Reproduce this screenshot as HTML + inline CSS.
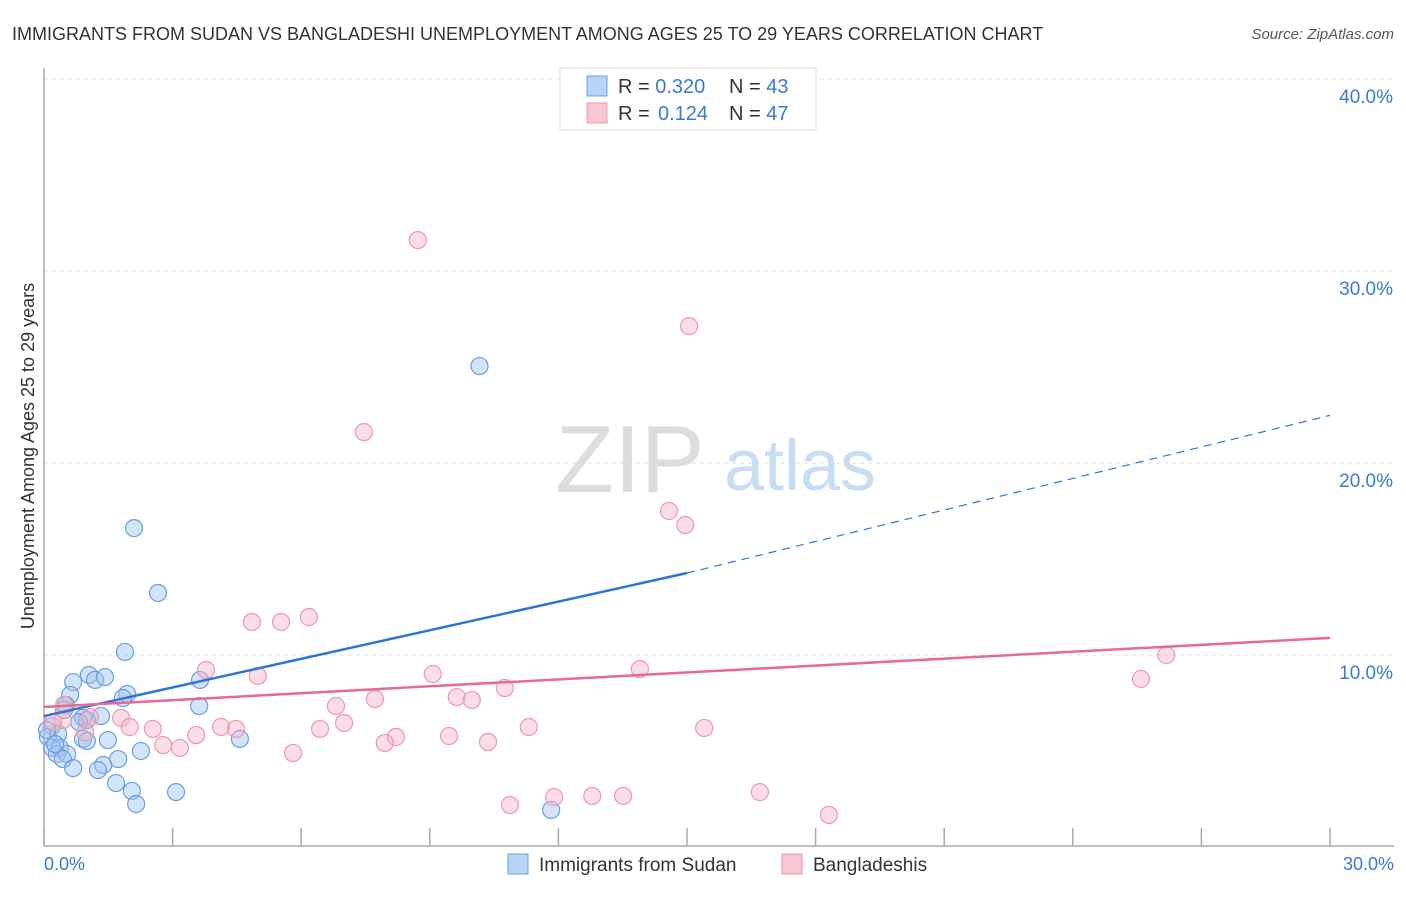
<!DOCTYPE html>
<html><head><meta charset="utf-8"><style>
body{margin:0;background:#fff;font-family:"Liberation Sans",sans-serif;}
svg text{font-family:"Liberation Sans",sans-serif;}
</style></head><body>
<svg id="chart" width="1406" height="892" xmlns="http://www.w3.org/2000/svg">
<text x="12" y="40" font-size="18" fill="#333">IMMIGRANTS FROM SUDAN VS BANGLADESHI UNEMPLOYMENT AMONG AGES 25 TO 29 YEARS CORRELATION CHART</text>
<text x="1394" y="39" font-size="15" fill="#555" font-style="italic" text-anchor="end">Source: ZipAtlas.com</text>
<text x="630" y="492" font-size="96" fill="#ddd" font-family="Liberation Serif" text-anchor="middle">ZIP</text>
<text x="800" y="490" font-size="72" fill="#c8dcf2" text-anchor="middle">atlas</text>
<g id="grid"></g>
<line x1="44" y1="68" x2="44" y2="846" stroke="#aaa" stroke-width="1.5"/>
<line x1="44" y1="846" x2="1394" y2="846" stroke="#aaa" stroke-width="1.5"/>
<g id="xticks"></g>
<text transform="translate(34,456) rotate(-90)" font-size="18" fill="#333" text-anchor="middle">Unemployment Among Ages 25 to 29 years</text>
<text x="44" y="870" font-size="18" fill="#3a78d8">0.0%</text>
<text x="1394" y="870" font-size="18" fill="#3a78d8" text-anchor="end">30.0%</text>
<g id="pts"></g>
<g id="trends"></g>
<g>
<rect x="560" y="68" width="256" height="62" fill="#fff" stroke="#ddd"/>
<rect x="587" y="76" width="20" height="20" fill="#b8d3f5" stroke="#6a9fe0"/>
<rect x="587" y="103" width="20" height="20" fill="#f9c6d4" stroke="#ec98b0"/>
<text x="618" y="93" font-size="20" fill="#333">R = <tspan fill="#3a78d8">0.320</tspan><tspan x="729">N = </tspan><tspan fill="#3a78d8">43</tspan></text>
<text x="618" y="120" font-size="20" fill="#333">R = <tspan fill="#3a78d8" x="658">0.124</tspan><tspan x="729">N = </tspan><tspan fill="#3a78d8">47</tspan></text>
</g>
<g>
<rect x="508" y="854" width="20" height="20" fill="#b8d3f5" stroke="#6a9fe0"/>
<text x="539" y="871" font-size="19" fill="#333">Immigrants from Sudan</text>
<rect x="782" y="854" width="20" height="20" fill="#f9c6d4" stroke="#ec98b0"/>
<text x="813" y="871" font-size="19" fill="#333">Bangladeshis</text>
</g>
</svg>
<script>
const yTicks=[10,20,30,40];
const yTickLabels=["10.0%","20.0%","30.0%","40.0%"];
const xTicks=[0,3,6,9,12,15,18,21,24,27,30];
const sudanX=[10.16,2.10,2.66,1.89,1.05,1.19,1.42,0.68,0.61,1.94,1.84,3.64,3.62,0.51,0.47,1.33,0.91,1.00,0.82,4.57,1.49,0.91,1.00,0.19,0.09,0.33,0.19,0.37,0.30,0.54,0.44,1.73,2.26,1.38,1.26,0.68,1.68,2.05,2.15,3.08,11.83,0.07,0.26];
const sudanY=[25.05,16.61,13.23,10.16,8.96,8.70,8.85,8.59,7.92,7.97,7.76,8.70,7.34,7.40,7.14,6.82,6.72,6.61,6.51,5.63,5.57,5.63,5.52,6.30,5.73,5.89,5.16,5.16,4.84,4.84,4.58,4.58,5.00,4.27,4.01,4.11,3.33,2.92,2.24,2.86,1.93,6.09,5.36];
const bangX=[8.72,15.05,7.46,14.58,14.96,6.18,4.85,5.53,3.78,4.99,9.07,13.90,26.18,25.59,9.63,9.98,10.75,6.81,7.72,7.00,6.44,1.80,1.07,0.44,2.00,2.54,4.13,4.48,3.55,11.31,15.40,8.21,9.45,7.95,10.36,2.78,3.17,5.81,0.21,0.47,10.87,11.90,12.79,13.51,16.70,18.31,0.96];
const bangY=[31.61,27.13,21.61,17.50,16.77,11.98,11.72,11.72,9.22,8.91,9.01,9.27,10.00,8.75,7.81,7.66,8.28,7.34,7.71,6.46,6.15,6.72,6.77,6.61,6.25,6.15,6.25,6.15,5.83,6.25,6.20,5.73,5.78,5.42,5.47,5.31,5.16,4.90,6.51,7.40,2.19,2.60,2.66,2.66,2.86,1.67,5.96];
const sudanTrend=[0.0,6.82,15.0,14.27];
const sudanTrendEnd=[30.0,22.48];
const bangTrend=[0.0,7.29,30.0,10.89];
const NS="http://www.w3.org/2000/svg";
function sx(v){return 44+v/30*1286;}
function sy(v){return 847-v*19.2;}
function mk(t,a,p){const e=document.createElementNS(NS,t);for(const k in a)e.setAttribute(k,a[k]);p.appendChild(e);return e;}
const grid=document.getElementById('grid');
yTicks.forEach((t,i)=>{
 const l=mk('line',{x1:44,x2:1394,y1:sy(t),y2:sy(t),stroke:'#ddd','stroke-dasharray':'4,4'},grid);
 
 
 const tx=mk('text',{x:1393,y:sy(t)+24,'font-size':19,fill:'#3a78d8','text-anchor':'end'},grid);
 tx.textContent=yTickLabels[i];
 
 
});
const xt=document.getElementById('xticks');
xTicks.forEach(t=>{
 const l=mk('line',{x1:sx(t),x2:sx(t),y1:828,y2:846,stroke:'#aaa','stroke-width':1.5},xt);
 
 
});
const pts=document.getElementById('pts');
sudanX.forEach((x,i)=>{
 const c=mk('circle',{cx:sx(x),cy:sy(sudanY[i]),r:8.5,fill:'rgba(160,196,240,0.45)',stroke:'#6a9fe0','stroke-width':1.2},pts);
 
 
});
bangX.forEach((x,i)=>{
 const c=mk('circle',{cx:sx(x),cy:sy(bangY[i]),r:8.5,fill:'rgba(246,180,200,0.45)',stroke:'#ec98b0','stroke-width':1.2},pts);
 
 
});
const tr=document.getElementById('trends');
let l1=mk('line',{x1:sx(sudanTrend[0]),y1:sy(sudanTrend[1]),x2:sx(sudanTrend[2]),y2:sy(sudanTrend[3]),stroke:'#2f74d8','stroke-width':2.5},tr);


let l2=mk('line',{x1:sx(sudanTrend[2]),y1:sy(sudanTrend[3]),x2:sx(sudanTrendEnd[0]),y2:sy(sudanTrendEnd[1]),stroke:'#2f74d8','stroke-width':1.2,'stroke-dasharray':'8,6'},tr);


let l3=mk('line',{x1:sx(bangTrend[0]),y1:sy(bangTrend[1]),x2:sx(bangTrend[2]),y2:sy(bangTrend[3]),stroke:'#e56a94','stroke-width':2.5},tr);


</script>
</body></html>
